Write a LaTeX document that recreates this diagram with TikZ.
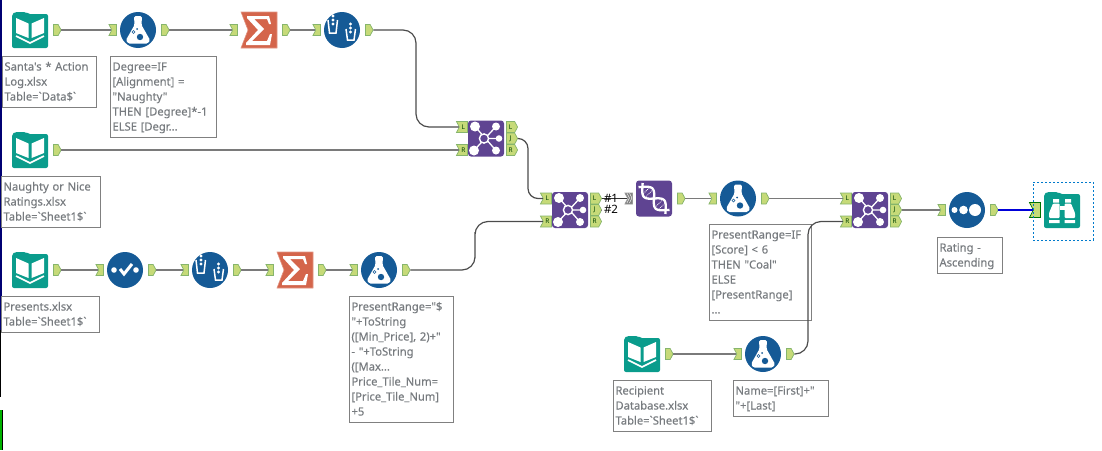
\documentclass[tikz,border=0pt]{standalone}
\usepackage{fontspec}
\setmainfont{Noto Sans}
\newfontfamily\notefont[FakeBold=0.2]{Noto Sans}
\newfontfamily\tagfont{Noto Sans}
\usetikzlibrary{positioning,shapes.symbols}

\definecolor{toolblue}{HTML}{155A96}
\definecolor{toolteal}{HTML}{0A9C8C}
\definecolor{toolpurple}{HTML}{5F4492}
\definecolor{toolorange}{HTML}{D4654B}
\definecolor{portfill}{HTML}{C6DA78}
\definecolor{portedge}{HTML}{86B56C}
\definecolor{notetext}{HTML}{777B7F}

\newcommand{\notetop}{\rule{0pt}{11pt}}
\newcommand{\notebottom}{\rule[-4pt]{0pt}{4pt}}

\tikzset{
  toolbody/.style={minimum size=36pt,inner sep=0pt},
  port/.style={signal,draw=portedge,fill=portfill,line width=.7pt,inner sep=0pt,
    minimum height=11pt,signal pointer angle=125},
  inport/.style={port,signal to=nowhere,signal from=west,minimum width=7.5pt},
  outport/.style={port,signal to=east,minimum width=7.5pt},
  joinin/.style={port,signal to=nowhere,signal from=west,minimum width=11pt},
  joinout/.style={port,signal to=east,minimum width=11pt},
  letter/.style={font=\bfseries\fontsize{6.5}{6.5}\selectfont,text=black!75!green,inner sep=0pt},
  wire/.style={draw=black!52,line width=1.6pt},
  bentwire/.style={draw=black!70,line width=1.2pt,rounded corners=13pt},
  note/.style={draw=black!50,fill=white,line width=1pt,anchor=north west,align=left,
    inner xsep=2pt,inner ysep=3pt,text=notetext,font=\notefont\fontsize{11.2}{15}\selectfont,
    execute at begin node={\setlength{\baselineskip}{15pt}\setlength{\lineskiplimit}{-20pt}\notetop},
    execute at end node={\notebottom}},
  pics/folder/.style={code={
    \fill[toolteal,rounded corners=2pt] (-18,-16) -- (-15,-18) -- (-4,-18) -- (-2,-16) -- (18,-16) -- (18,18) -- (-18,18) -- cycle;
  }},
  pics/bookicon/.style={code={
    \pic {folder};
    \fill[white] (-14,-12) -- (-1.5,-6.5) -- (-1.5,8) -- (-14,3) -- cycle;
    \fill[white] (14,-12) -- (1.5,-6.5) -- (1.5,8) -- (14,3) -- cycle;
    \draw[white,line width=1.6pt] (-14,6) -- (0,13) -- (14,6);
  }},
  pics/flaskicon/.style={code={
    \fill[toolblue] (0,0) circle (18);
    \fill[white,rounded corners=1.5pt] (-4,-14) -- (4,-14) -- (3.5,-5) -- (12,10) -- (10,13.5) -- (-10,13.5) -- (-12,10) -- (-3.5,-5) -- cycle;
    \fill[toolblue] (2,7) circle (3.2);
    \draw[toolblue,line width=.6pt] (-4.5,2) circle (1.5);
    \fill[toolblue] (-1,-1) circle (1);
  }},
  pics/sumicon/.style={code={
    \fill[toolorange,draw=toolorange!70!white,line width=.6pt] (-18,-18) -- (18,-18) -- (18,18) -- (-18,18) -- (-11,0) -- cycle;
    \fill[white] (-12,-14) -- (10,-14) -- (12,-6) -- (10,-6) -- (8,-11) -- (-5,-11) -- (5,-1) -- (-7,11) -- (8,11) -- (11,4) -- (13,4) -- (11,15) -- (-13,15) -- (-13,13) -- (-1,0) -- (-12,-12) -- cycle;
  }},
  pics/sampleicon/.style={code={
    \fill[toolblue] (0,0) circle (18);
    \foreach \py in {-14,-10,-6} \fill[white] (-9,\py) circle (1.6);
    \foreach \py in {-6,-2,2} \fill[white] (8.5,\py) circle (1.6);
    \draw[white,line width=1.5pt] (-14,-10) -- (-12.5,3) -- (-6,3) -- (-4.5,-10);
    \draw[white,line width=1.5pt] (4,-1) -- (5.5,10) -- (12,10) -- (13.5,-1);
  }},
  pics/checkicon/.style={code={
    \fill[toolblue] (0,0) circle (18);
    \fill[white] (-11,0) circle (2.8) (11,0) circle (2.8);
    \draw[white,line width=3pt] (-5,-1) -- (-1,4) -- (7,-6);
  }},
  pics/sorticon/.style={code={
    \fill[toolblue] (0,0) circle (18);
    \fill[white] (-12.5,0) circle (3) (-3.5,0) circle (4.3) (8,0) circle (6);
  }},
  pics/joinicon/.style={code={
    \fill[toolpurple,rounded corners=3pt] (-18,-18) rectangle (18,18);
    \draw[white,line width=1.3pt] (-11,-12) -- (10,12) (10,-12) -- (-12,12) (-2,0) -- (13,0);
    \fill[white] (-11,-12) circle (5) (10,-12) circle (4) (13,0) circle (3.3) (10,12) circle (4) (-12,12) circle (5);
    \draw[white,fill=toolpurple,line width=1.4pt] (-2,0) circle (4.6);
  }},
  pics/dnaicon/.style={code={
    \fill[toolpurple,rounded corners=3pt] (-18,-18) rectangle (18,18);
    \begin{scope}[rotate=-45]
      \draw[white,line width=2.3pt] plot[domain=-19:19,samples=30,smooth] (\x,{6*sin(\x*11)});
      \draw[white,line width=2.3pt] plot[domain=-19:19,samples=30,smooth] (\x,{-6*sin(\x*11)});
      \foreach \px in {-11,-7,7,11} \draw[white,line width=.8pt,densely dotted] (\px,-4) -- (\px,4);
    \end{scope}
  }},
  pics/browseicon/.style={code={
    \pic {folder};
    \fill[white] (-9,-11) rectangle (-3,-7.5) (3,-11) rectangle (9,-7.5);
    \fill[white,rounded corners=1pt] (-9,-6.5) -- (-2.5,-6.5) -- (-2.5,8) -- (-13,8) -- (-13,3) -- cycle;
    \fill[white,rounded corners=1pt] (9,-6.5) -- (2.5,-6.5) -- (2.5,8) -- (13,8) -- (13,3) -- cycle;
    \fill[white] (-2.5,-4) rectangle (2.5,0);
    \fill[white] (-13,10) rectangle (-2.5,13) (2.5,10) rectangle (13,13);
  }},
}

% one tool: invisible body to hang the ports on, icon on top
\newcommand{\tool}[3]{
  \node[toolbody] (#1) at (#2) {};
  \pic at (#1) {#3};
}
% the five ports round a join
\newcommand{\joinports}[1]{
  \node[joinin,left=0pt of #1,yshift=11.5pt,label={[letter]center:L}] (#1-l) {};
  \node[joinin,left=0pt of #1,yshift=-11.5pt,label={[letter]center:R}] (#1-r) {};
  \node[joinout,right=2pt of #1,yshift=11.5pt,label={[letter]center:L}] (#1-lo) {};
  \node[joinout,right=2pt of #1,label={[letter]center:J}] (#1-jo) {};
  \node[joinout,right=2pt of #1,yshift=-11.5pt,label={[letter]center:R}] (#1-ro) {};
}

\begin{document}
\begin{tikzpicture}[x=1pt,y=-1pt]
\useasboundingbox (0,0) rectangle (1102,450);

% window edge
\fill[blue!45!black] (0,0) rectangle (1.6,330);
\fill[black] (0,330) rectangle (1,397);
\fill[black] (0,410) rectangle (2.6,450);
\fill[green!70!black] (0,410) rectangle (1.8,450);

% top row
\tool{book1}{30,30}{bookicon}
\tool{flask1}{138,30}{flaskicon}
\tool{sum1}{259,30}{sumicon}
\tool{sample1}{342,30}{sampleicon}
\node[outport,right=5pt of book1] (book1-out) {};
\node[inport,left=3pt of flask1] (flask1-in) {};
\node[outport,right=5pt of flask1] (flask1-out) {};
\node[inport,left=3pt of sum1] (sum1-in) {};
\node[outport,right=5pt of sum1] (sum1-out) {};
\node[inport,left=3pt of sample1] (sample1-in) {};
\node[outport,right=5pt of sample1] (sample1-out) {};

% second row
\tool{book2}{30,150}{bookicon}
\node[outport,right=5pt of book2] (book2-out) {};

% third row
\tool{book3}{30,270}{bookicon}
\tool{check1}{125,270}{checkicon}
\tool{sample2}{210,270}{sampleicon}
\tool{sum2}{295,270}{sumicon}
\tool{flask2}{379,270}{flaskicon}
\node[outport,right=5pt of book3] (book3-out) {};
\node[inport,left=3pt of check1] (check1-in) {};
\node[outport,right=5pt of check1] (check1-out) {};
\node[inport,left=3pt of sample2] (sample2-in) {};
\node[outport,right=5pt of sample2] (sample2-out) {};
\node[inport,left=3pt of sum2] (sum2-in) {};
\node[outport,right=5pt of sum2] (sum2-out) {};
\node[inport,left=3pt of flask2] (flask2-in) {};
\node[outport,right=5pt of flask2] (flask2-out) {};

% joins
\tool{join1}{486,138.5}{joinicon}
\joinports{join1}
\tool{join2}{570,210}{joinicon}
\joinports{join2}
\tool{join3}{870,210}{joinicon}
\joinports{join3}

% after the second join
\tool{dna1}{654,198.5}{dnaicon}
\node[inport,left=3pt of dna1,fill=black!50,draw=black!40,path picture={
  \draw[white,line width=.5pt] (path picture bounding box.north west) ++(2,0) -- ++(2.5,5) -- ++(-2.5,5);
  \draw[white,line width=.5pt] (path picture bounding box.north west) ++(4.5,0) -- ++(2.5,5) -- ++(-2.5,5);
}] (dna1-in) {};
\node[outport,right=5pt of dna1] (dna1-out) {};
\tool{flask3}{738,198.5}{flaskicon}
\node[inport,left=3pt of flask3] (flask3-in) {};
\node[outport,right=5pt of flask3] (flask3-out) {};

% last tools
\tool{book4}{642,354}{bookicon}
\tool{flask4}{763,354}{flaskicon}
\node[outport,right=5pt of book4] (book4-out) {};
\node[inport,left=3pt of flask4] (flask4-in) {};
\node[outport,right=5pt of flask4] (flask4-out) {};
\tool{sort1}{967,210}{sorticon}
\node[inport,left=3pt of sort1] (sort1-in) {};
\node[outport,right=5pt of sort1] (sort1-out) {};
\tool{browse1}{1062,210}{browseicon}
\node[inport,left=3pt of browse1,minimum width=11pt,minimum height=15pt,draw=green!45!black] (browse1-in) {};

\node[draw=blue!40!cyan!80!black,dashed,dash pattern=on 2pt off 2pt,line width=.6pt,minimum width=60pt,minimum height=58pt,inner sep=0pt] (selection) at (1063,211) {};

% annotation boxes
\node[note,text width=90pt] (note1) at (2,56) {Santa's * Action\\Log.xlsx\\Table=`Data\$`};
\node[note,text width=102pt] (note2) at (110,56) {Degree=IF\\{[Alignment]} =\\"Naughty"\\THEN [Degree]*-1\\ELSE [Degr...};
\node[note,text width=95pt] (note3) at (1,176) {Naughty or Nice\\Ratings.xlsx\\Table=`Sheet1\$`};
\node[note,text width=94pt] (note4) at (1,296) {Presents.xlsx\\Table=`Sheet1\$`};
\node[note,text width=100pt] (note5) at (349,296) {PresentRange="\$\\"+ToString\\{([Min\_Price]}, 2)+"\\- "+ToString\\{([Max...}\\Price\_Tile\_Num=\\{[Price\_Tile\_Num]}\\+5};
\node[note,text width=98pt] (note6) at (709,224) {PresentRange=IF\\{[Score]} < 6\\THEN "Coal"\\ELSE\\{[PresentRange]}\\...};
\node[note,text width=94pt] (note7) at (613,380) {Recipient\\Database.xlsx\\Table=`Sheet1\$`};
\node[note,text width=91pt] (note8) at (733,380) {Name=[First]+"\\"+[Last]};
\node[note,text width=61pt] (note9) at (937,237) {Rating -\\Ascending};

% bend columns of the curved wires
\coordinate (bend1) at (416,80);
\coordinate (bend2) at (528,170);
\coordinate (bend3) at (475,245);
\coordinate (bend4) at (808,290);

% connectors
\draw[wire] (book1-out) -- (flask1-in);
\draw[wire] (flask1-out) -- (sum1-in);
\draw[wire] (sum1-out) -- (sample1-in);
\draw[wire] (book2-out) -- (join1-r);
\draw[wire] (book3-out) -- (check1-in);
\draw[wire] (check1-out) -- (sample2-in);
\draw[wire] (sample2-out) -- (sum2-in);
\draw[wire] (sum2-out) -- (flask2-in);
\draw[wire] (dna1-out) -- (flask3-in);
\draw[wire] (flask3-out) -- (join3-l);
\draw[wire] (book4-out) -- (flask4-in);
\draw[wire] (join3-jo) -- (sort1-in);
\draw[bentwire] (sample1-out) -| (bend1) |- (join1-l);
\draw[bentwire,rounded corners=10pt] (join1-jo) -| (bend2) |- (join2-l);
\draw[bentwire] (flask2-out) -| (bend3) |- (join2-r);
\draw[bentwire] (flask4-out) -| (bend4) |- (join3-r);
\draw[draw=black!80,line width=.9pt] (join2-lo) -- (dna1-in);
\draw[draw=black!50,line width=.8pt] (join2-jo) -- ++(6,0);
\draw[draw=blue!85!black,line width=2pt] (sort1-out) -- (browse1-in);

\node[font=\tagfont\fontsize{11.5}{11.5}\selectfont,inner sep=0pt] (num1) at (611,198) {\#1};
\node[font=\tagfont\fontsize{11.5}{11.5}\selectfont,inner sep=0pt] (num2) at (611,209.5) {\#2};
\end{tikzpicture}
\end{document}
